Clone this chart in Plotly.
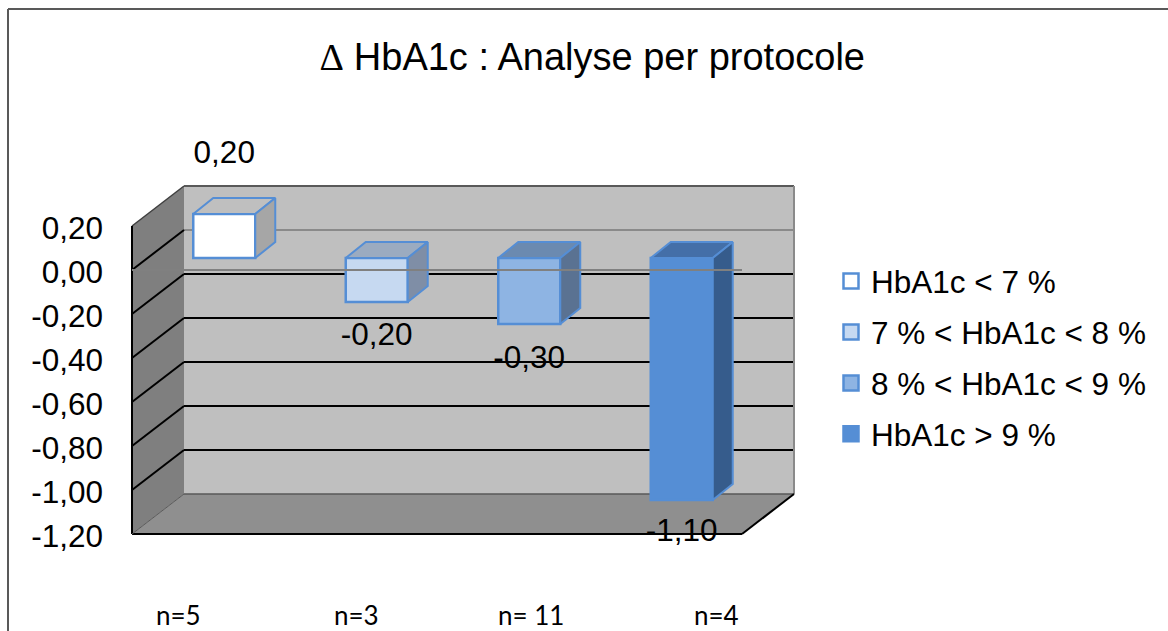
import plotly.graph_objects as go

# ---- data ----
series_names = ["HbA1c < 7 %", "7 % < HbA1c < 8 %", "8 % < HbA1c < 9 %", "HbA1c > 9 %"]
series_values = [0.20, -0.20, -0.30, -1.10]
group_labels = ["n=5", "n=3", "n= 11", "n=4"]
y_ticks = [0.20, 0.00, -0.20, -0.40, -0.60, -0.80, -1.00, -1.20]
title_text = "HbA1c : Analyse per protocole"

# ---- styles ----
front_colors = ["#ffffff", "#c6d9f1", "#8eb4e3", "#558ed5"]
top_colors = ["#bfbfbf", "#9babc0", "#6b8ab0", "#446fa8"]
side_colors = ["#a6a6a6", "#7f8ea6", "#5a7292", "#365c8c"]
edge = "#558ed5"

W, H = 1168, 631
L, R, T, B = 132, 794, 186, 534      # box of the chart in page pixels
AXIS_TOP = 120                       # the y axis runs on above the box, so the top label stays in range
UNIT_Y = 220.0                       # pixels per y unit
UNIT_X = 152.5                       # pixels per category
ZERO_PX = 270
DX, DY = 52, 40                      # wall depth in pixels
px = lambda v: v / W
py = lambda v: 1 - v / H
def x_data(v): return v / UNIT_X
def y_data(v): return v / UNIT_Y
def fmt(v): return f"{v:.2f}".replace(".", ",")

fig = go.Figure()

lift = y_data(12)
shift = x_data(16)
bar_w = x_data(62)
depth_x, depth_y = x_data(20), y_data(16)

positions = [i + 0.5 + shift for i in range(len(series_values))]

for i, (name, value) in enumerate(zip(series_names, series_values)):
    c = positions[i]
    x0, x1 = c - bar_w / 2, c + bar_w / 2
    lo, hi = sorted([lift, lift + value])
    fig.add_trace(go.Bar(x=[c], y=[value], base=[lift], width=[bar_w], showlegend=False,
                         marker=dict(color=front_colors[i], line=dict(color=edge, width=2.5)),
                         hoverinfo="skip"))
    fig.add_trace(go.Scatter(
        x=[x0, x0 + depth_x, x1 + depth_x, x1, x0],
        y=[hi, hi + depth_y, hi + depth_y, hi, hi],
        mode="lines", fill="toself", fillcolor=top_colors[i],
        line=dict(color=edge, width=2), showlegend=False, hoverinfo="skip"))
    fig.add_trace(go.Scatter(
        x=[x1, x1 + depth_x, x1 + depth_x, x1, x1],
        y=[hi, hi + depth_y, lo + depth_y, lo, hi],
        mode="lines", fill="toself", fillcolor=side_colors[i],
        line=dict(color=edge, width=2), showlegend=False, hoverinfo="skip"))
    # legend entry
    fig.add_trace(go.Scatter(
        x=[None], y=[None], mode="markers", name=name, legendgroup=name,
        marker=dict(symbol="square", size=15, color=front_colors[i], line=dict(color=edge, width=2.5))))

# data labels
label_offsets = [y_data(59), -y_data(35), -y_data(36), -y_data(33)]
label_y = [lift + v + o for v, o in zip(series_values, label_offsets)]
fig.add_trace(go.Scatter(
    x=positions, y=label_y, mode="text", cliponaxis=False,
    text=[fmt(v) for v in series_values],
    textposition="middle center",
    textfont=dict(family="Liberation Sans", size=31.5, color="#000000"),
    showlegend=False, hoverinfo="skip"))

# ---- chart box (walls, floor, gridlines) ----
shapes = []
def poly(points, fill):
    path = "M" + " L".join(f"{px(x)},{py(y)}" for x, y in points) + " Z"
    shapes.append(dict(type="path", xref="paper", yref="paper", path=path, fillcolor=fill, layer="below",
                       line=dict(color="rgba(0,0,0,0)", width=0)))

def seg(x0, y0, x1, y1, color, width, layer="below"):
    shapes.append(dict(type="line", xref="paper", yref="paper", x0=px(x0), y0=py(y0), x1=px(x1), y1=py(y1),
                       layer=layer, line=dict(color=color, width=width)))

# page frame
seg(8, 9, W, 9, "#595959", 2)
seg(8, 9, 8, H, "#595959", 2)
# walls and floor
poly([(L + DX, T), (R, T), (R, B - DY), (L + DX, B - DY)], "#bfbfbf")
poly([(L, T + DY), (L + DX, T), (L + DX, B - DY), (L, B)], "#7f7f7f")
poly([(L, B), (L + DX, B - DY), (R, B - DY), (R - DX, B)], "#8f8f8f")
# gridlines on the back and side walls
for t in y_ticks[1:-1]:
    yy = ZERO_PX - t * UNIT_Y
    seg(L + DX, yy - DY, R, yy - DY, "#8a8a8a" if t == 0 else "#000000", 2)
    seg(L, yy, L + DX, yy - DY, "#000000", 2)
# wall edges
seg(L, T + DY, L + DX, T, "#404040", 1.5)
seg(L + DX, T, R, T, "#595959", 2)
seg(R, T, R, B - DY, "#8a8a8a", 2)
seg(L + DX, B - DY, R, B - DY, "#595959", 1.5)
seg(L, T + DY, L, B, "#000000", 2)
seg(L, B, R - DX, B, "#000000", 2)
seg(R - DX, B, R, B - DY, "#000000", 2)
seg(L, B, L + DX, B - DY, "#5a5a5a", 1)
# grey front zero line crosses over the bars
seg(L, ZERO_PX, R - DX, ZERO_PX, "#808080", 2, layer="above")

# category captions
annotations = [
    dict(text=lab, xref="paper", yref="paper", x=px(xp), y=py(615), xanchor="center", yanchor="middle",
         showarrow=False, font=dict(family="Lato", size=26, color="#000000"))
    for lab, xp in zip(group_labels, [178, 356, 531, 716])
]
annotations.append(dict(
    text='<span style="font-family:Liberation Serif;font-size:38px">∆</span> ' + title_text,
    xref="paper", yref="paper", x=px(592), y=py(57), xanchor="center", yanchor="middle",
    showarrow=False, font=dict(family="Liberation Sans", size=38, color="#000000")))

fig.update_layout(
    width=W, height=H, autosize=False,
    margin=dict(l=0, r=0, t=0, b=0, pad=0, autoexpand=False),
    paper_bgcolor="#ffffff", plot_bgcolor="rgba(0,0,0,0)",
    barmode="overlay", shapes=shapes, annotations=annotations,
    xaxis=dict(domain=[px(L), px(R)], range=[0, (R - L) / UNIT_X], showgrid=False, zeroline=False,
               showticklabels=False, ticks="", fixedrange=True, automargin=False),
    yaxis=dict(domain=[py(B), py(AXIS_TOP)], range=[y_data(ZERO_PX - B), y_data(ZERO_PX - AXIS_TOP)],
               tickmode="array", tickvals=y_ticks, ticktext=[fmt(t) for t in y_ticks],
               showgrid=False, zeroline=False, showline=False, ticks="", ticklabelstandoff=28,
               ticklabelshift=2, automargin=False,
               tickfont=dict(family="Liberation Sans", size=31.5, color="#000000"), fixedrange=True),
    legend=dict(x=px(831), y=py(254), xanchor="left", yanchor="top", bgcolor="rgba(0,0,0,0)",
                tracegroupgap=7, font=dict(family="Liberation Sans", size=31.5, color="#000000")),
    font=dict(family="Liberation Sans"),
)

fig.write_html("out.html", config={"displayModeBar": False},
               post_script="document.body.style.margin='0';")
